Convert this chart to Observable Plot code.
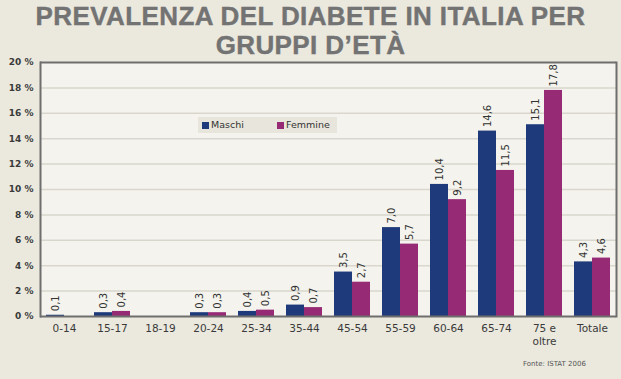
<!DOCTYPE html>
<html>
<head>
<meta charset="utf-8">
<script src="https://cdn.jsdelivr.net/npm/d3@7"></script>
<script src="https://cdn.jsdelivr.net/npm/@observablehq/plot@0.6"></script>
<style>
  html, body { margin: 0; padding: 0; }
  body { width: 621px; height: 379px; background: #ebe9de; position: relative; overflow: hidden; font-family: "DejaVu Sans", sans-serif; }
  #title { position: absolute; left: 0; top: 0; width: 621px; height: 56px; text-align: center;
    font-family: "Liberation Sans", Arial, sans-serif; font-weight: bold; font-size: 26px; line-height: 29px;
    letter-spacing: 0.4px; color: #737373; -webkit-text-stroke: 0.4px #737373; padding-top: 2px; box-sizing: border-box; }
  #chart { position: absolute; left: 0; top: 56px; }
  #legend { position: absolute; left: 198px; top: 117px; width: 139px; height: 16px; background: #e8e6dc;
    font-size: 9.5px; color: #333; }
  #legend span.sw { position: absolute; top: 5px; width: 7px; height: 7px; }
  #legend span.lb { position: absolute; top: 2px; }
  #source { position: absolute; left: 523px; top: 360px; font-size: 7px; color: #555; }
</style>
</head>
<body>
<div id="title">PREVALENZA DEL DIABETE IN ITALIA PER<br>GRUPPI D’ETÀ</div>
<div id="chart"></div>
<div id="legend"></div>
<div id="source">Fonte: ISTAT 2006</div>
<script>
const categories = ["0-14", "15-17", "18-19", "20-24", "25-34", "35-44", "45-54", "55-59", "60-64", "65-74", "75 e oltre", "Totale"];
const maschi  = [0.1, 0.3, null, 0.3, 0.4, 0.9, 3.5, 7.0, 10.4, 14.6, 15.1, 4.3];
const femmine = [null, 0.4, null, 0.3, 0.5, 0.7, 2.7, 5.7, 9.2, 11.5, 17.8, 4.6];
const series = ["Maschi", "Femmine"];
const seriesColors = ["#1f3a7b", "#962a74"];
const yTicks = [0, 2, 4, 6, 8, 10, 12, 14, 16, 18, 20];

const data = [];
categories.forEach((c, i) => {
  data.push({cat: c, series: "Maschi", value: maschi[i]});
  data.push({cat: c, series: "Femmine", value: femmine[i]});
});

const fmt = v => d3.format(".1f")(v).replace(".", ",");
const borderColor = "#6e6e6e";

const chart = Plot.plot({
  width: 621,
  height: 323,
  marginTop: 6,
  marginBottom: 63,
  marginLeft: 37,
  marginRight: 3,
  style: {background: "transparent", fontFamily: "DejaVu Sans, sans-serif", color: "#333"},
  fx: {domain: categories, padding: 0, label: null, axis: null},
  x: {domain: series, axis: null, paddingInner: 0, paddingOuter: 0.266},
  y: {domain: [0, 20], label: null, axis: null},
  color: {domain: series, range: seriesColors},
  marks: [
    Plot.frame({fill: "#f4f3ed", stroke: null, shapeRendering: "crispEdges"}),
    Plot.ruleY(yTicks.filter(d => d > 0 && d < 20), {stroke: "#d9d7cd", strokeWidth: 1.5}),
    Plot.barY(data, {fx: "cat", x: "series", y: d => d.value == null ? 0 : d.value, fill: "series"}),
    Plot.text(data, {fx: "cat", x: "series", y: "value", text: d => d.value == null ? null : fmt(d.value), rotate: -90,
      textAnchor: "start", lineAnchor: "middle", dy: -4, fontSize: 10, fill: "#333"}),
    Plot.ruleY([0], {stroke: borderColor, strokeWidth: 2}),
    Plot.ruleY([20], {stroke: borderColor, strokeWidth: 2}),
    Plot.frame({anchor: "left", facetAnchor: "left", stroke: borderColor, strokeWidth: 2}),
    Plot.frame({anchor: "right", facetAnchor: "right", stroke: borderColor, strokeWidth: 2}),
    Plot.axisY({anchor: "left", ticks: yTicks, tickFormat: d => d + " %", tickSize: 0, tickPadding: 7,
      fontSize: 9, fontWeight: "bold", fill: "#3a3a3a", label: null}),
    Plot.axisFx({anchor: "bottom", tickSize: 0, tickPadding: 6, fontSize: 10.5, lineHeight: 1.25, fill: "#3a3a3a", label: null,
      tickFormat: d => d === "75 e oltre" ? "75 e\noltre" : d})
  ]
});
document.getElementById("chart").appendChild(chart);

// legend
const legend = document.getElementById("legend");
const legendPos = [[4, 13], [79, 88]];
series.forEach((s, i) => {
  const sw = document.createElement("span");
  sw.className = "sw";
  sw.style.left = legendPos[i][0] + "px";
  sw.style.background = seriesColors[i];
  const lb = document.createElement("span");
  lb.className = "lb";
  lb.style.left = legendPos[i][1] + "px";
  lb.textContent = s;
  legend.appendChild(sw);
  legend.appendChild(lb);
});
</script>
</body>
</html>
